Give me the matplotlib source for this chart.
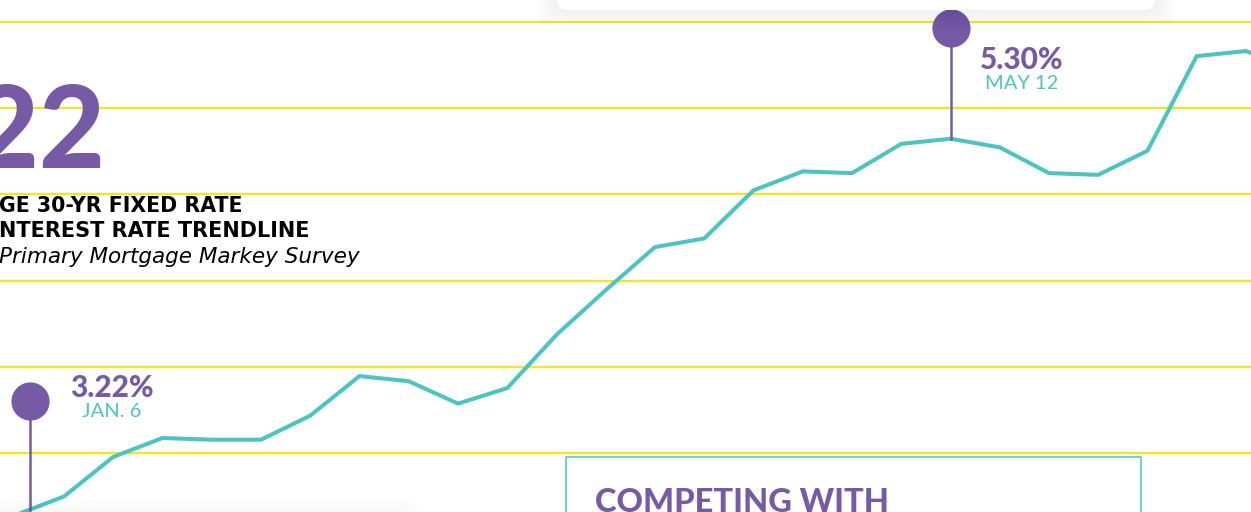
import matplotlib.pyplot as plt
from matplotlib.patches import Rectangle, FancyBboxPatch
import numpy as np

# Freddie Mac PMMS 30-yr fixed, weekly (week 0 = Jan. 6, 2022)
weeks = list(range(-1, 26))
rates = [3.11, 3.22, 3.45, 3.56, 3.55, 3.55, 3.69, 3.92, 3.89, 3.76, 3.85,
         4.16, 4.42, 4.67, 4.72, 5.00, 5.11, 5.10, 5.27, 5.30, 5.25, 5.10,
         5.09, 5.23, 5.78, 5.81, 5.70]
grid_levels = [3.47, 3.97, 4.47, 4.98, 5.48, 5.98]

# pins: (week position, rate label, date label, pin head height)
pin_jan = (-0.69, "3.22%", "JAN. 6", 3.775)
pin_may = (18, "5.30%", "MAY 12", 5.944)

PURPLE = "#765aa6"
TEAL = "#4cc5c2"
YELLOW = "#f0e622"

W, H = 1251, 512
fig = plt.figure(figsize=(W / 100, H / 100), dpi=100)
fig.patch.set_facecolor("white")

ax = fig.add_axes([0, 0, 1, 1])
ax.set_xlim(-64 / 49.25, (W - 64) / 49.25)
ax.set_ylim(3.56 - (H - 438) / 172, 3.56 + 438 / 172)
ax.axis("off")

for g in grid_levels:
    ax.axhline(g, color=YELLOW, lw=1.6, zorder=1)

ax.plot(weeks, rates, color=TEAL, lw=2.9, solid_joinstyle="miter", zorder=3)

for px, val, date, top in [pin_jan, pin_may]:
    base = np.interp(px, weeks, rates)
    ax.plot([px, px], [base, top], color=PURPLE, lw=1.8, zorder=4)
    ax.plot(px, top, "o", ms=27.5, color=PURPLE, mec="none", zorder=5)

# overlay in pixel units for the decorative pieces
ov = fig.add_axes([0, 0, 1, 1])
ov.set_xlim(0, W)
ov.set_ylim(H, 0)
ov.axis("off")
ov.patch.set_alpha(0)

# top card shadow (soft)
for i in range(14):
    pad = 1 + i * 1.5
    ov.add_patch(FancyBboxPatch((556 - pad, -60), 600 + 2 * pad, 70 + pad,
                                boxstyle="round,pad=0,rounding_size=16",
                                fc="#000000", ec="none", alpha=0.003, zorder=6))
ov.add_patch(FancyBboxPatch((556, -60), 600, 70,
                            boxstyle="round,pad=0,rounding_size=12",
                            fc="white", ec="none", zorder=7))

# bottom-left card shadow
for i in range(6):
    ov.add_patch(Rectangle((-20, 500 + i * 1.5), 440 - i * 3, 30,
                           fc="#000000", ec="none", alpha=0.005, zorder=2))

# bottom box
ov.add_patch(Rectangle((566, 457), 575, 80, fc="white", ec=TEAL, lw=1.1, zorder=6))
ov.text(595, 488, "COMPETING WITH", color=PURPLE, fontsize=23.5, fontweight="black",
        family="Lato", ha="left", va="top", zorder=7)

# big year and subtitle
ov.text(105, 168, "2022", color=PURPLE, fontsize=82, fontweight="black",
        family="Lato", ha="right", va="baseline", zorder=4)
ov.text(-1, 212, "GE 30-YR FIXED RATE", color="black", fontsize=14.8,
        fontweight="bold", family="DejaVu Sans", ha="left", va="baseline")
ov.text(-1, 237, "NTEREST RATE TRENDLINE", color="black", fontsize=15,
        fontweight="bold", family="DejaVu Sans", ha="left", va="baseline")
ov.text(-1, 263, "Primary Mortgage Markey Survey", color="black", fontsize=15.5,
        style="italic", family="DejaVu Sans", ha="left", va="baseline")

# pin labels
ov.text(112, 397, "3.22%", color=PURPLE, fontsize=21.5, fontweight="black",
        family="Lato", ha="center", va="baseline", zorder=8)
ov.text(112, 417, "JAN. 6", color=TEAL, fontsize=14.5, family="Lato",
        ha="center", va="baseline", zorder=8)
ov.text(1022, 69, "5.30%", color=PURPLE, fontsize=21.5, fontweight="black",
        family="Lato", ha="center", va="baseline", zorder=8)
ov.text(1022, 89, "MAY 12", color=TEAL, fontsize=14.5, family="Lato",
        ha="center", va="baseline", zorder=8)

fig.savefig("out.png", dpi=100)
